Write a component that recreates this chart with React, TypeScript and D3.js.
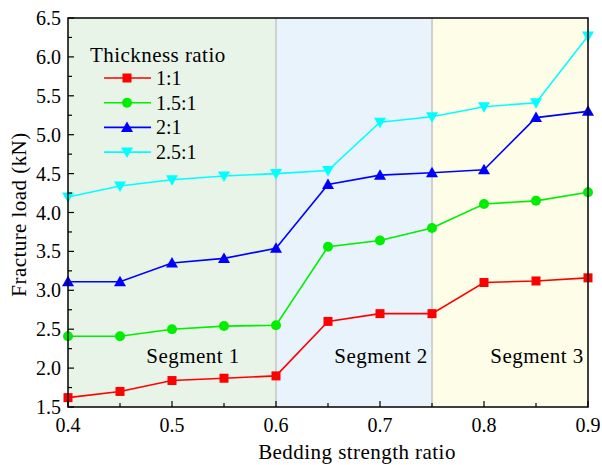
import React from "react";
import * as d3 from "d3";

const xValues = [0.4, 0.45, 0.5, 0.55, 0.6, 0.65, 0.7, 0.75, 0.8, 0.85, 0.9];
const ratio11 = [1.62, 1.7, 1.84, 1.87, 1.9, 2.6, 2.7, 2.7, 3.1, 3.12, 3.16];
const ratio151 = [2.41, 2.41, 2.5, 2.54, 2.55, 3.56, 3.64, 3.8, 4.11, 4.15, 4.26];
const ratio21 = [3.11, 3.11, 3.35, 3.41, 3.54, 4.36, 4.48, 4.51, 4.55, 5.22, 5.3];
const ratio251 = [4.2, 4.34, 4.42, 4.47, 4.5, 4.54, 5.16, 5.23, 5.36, 5.41, 6.27];
const seriesNames = ["1:1", "1.5:1", "2:1", "2.5:1"];
const seriesColors = ["#ff0000", "#00ee00", "#0000ff", "#00ffff"];
const seriesShapes = ["square", "circle", "triangleUp", "triangleDown"];
const xTicks = [0.4, 0.5, 0.6, 0.7, 0.8, 0.9];
const yTicks = [1.5, 2.0, 2.5, 3.0, 3.5, 4.0, 4.5, 5.0, 5.5, 6.0, 6.5];
const segments = [
  { name: "Segment 1", from: 0.4, to: 0.6, fill: "#e9f4e9" },
  { name: "Segment 2", from: 0.6, to: 0.75, fill: "#e9f3fb" },
  { name: "Segment 3", from: 0.75, to: 0.9, fill: "#fefde8" },
];

const W = 602, H = 465;
const L = 68, R = 588, T = 18, B = 407;
const FONT = "Liberation Serif, Times New Roman, serif";
const FS = 20;
const TFS = 21;
const LS = 0.45;

function Marker({ shape, x, y, color }: { shape: string; x: number; y: number; color: string }) {
  if (shape === "square") return <rect x={x - 4.5} y={y - 4.5} width={9} height={9} fill={color} />;
  if (shape === "circle") return <circle cx={x} cy={y} r={5} fill={color} />;
  if (shape === "triangleUp")
    return <path d={`M${x},${y - 6} L${x + 6},${y + 4.5} L${x - 6},${y + 4.5}Z`} fill={color} />;
  return <path d={`M${x},${y + 6} L${x + 6},${y - 4.5} L${x - 6},${y - 4.5}Z`} fill={color} />;
}

export default function App() {
  const x = d3.scaleLinear().domain([0.4, 0.9]).range([L, R]);
  const y = d3.scaleLinear().domain([1.5, 6.5]).range([B, T]);
  const data = [ratio11, ratio151, ratio21, ratio251];
  const line = d3
    .line<number>()
    .x((_, i) => x(xValues[i]))
    .y((d) => y(d));
  const xMinor = d3.range(0.45, 0.9, 0.1);
  const yMinor = d3.range(1.75, 6.5, 0.5);

  return (
    <svg width={W} height={H} style={{ display: "block", position: "absolute", left: 0, top: 0, fontFamily: FONT }}>
      <rect width={W} height={H} fill="#fff" />
      {segments.map((s) => (
        <rect key={s.name} x={x(s.from)} y={T} width={x(s.to) - x(s.from)} height={B - T} fill={s.fill} />
      ))}
      {[0.6, 0.75].map((v) => (
        <line key={v} x1={x(v)} x2={x(v)} y1={T} y2={B} stroke="#d0d0d0" strokeWidth={2} />
      ))}
      {segments.map((s, i) => (
        <text key={s.name} x={[193, 381, 537][i]} y={363} fontSize={TFS} letterSpacing={LS} textAnchor="middle" fill="#000">
          {s.name}
        </text>
      ))}
      {data.map((vals, si) => (
        <g key={si}>
          <path d={line(vals) || ""} fill="none" stroke={seriesColors[si]} strokeWidth={1.6} />
          {vals.map((v, i) => (
            <Marker key={i} shape={seriesShapes[si]} x={x(xValues[i])} y={y(v)} color={seriesColors[si]} />
          ))}
        </g>
      ))}
      {xTicks.map((t) => (
        <line key={t} x1={x(t)} x2={x(t)} y1={B} y2={B - 6} stroke="#000" strokeWidth={1.2} />
      ))}
      {xMinor.map((t) => (
        <line key={t} x1={x(t)} x2={x(t)} y1={B} y2={B - 4} stroke="#000" strokeWidth={1.2} />
      ))}
      {yTicks.map((t) => (
        <line key={t} x1={L} x2={L + 6} y1={y(t)} y2={y(t)} stroke="#000" strokeWidth={1.2} />
      ))}
      {yMinor.map((t) => (
        <line key={t} x1={L} x2={L + 4} y1={y(t)} y2={y(t)} stroke="#000" strokeWidth={1.2} />
      ))}
      <rect x={L} y={T} width={R - L} height={B - T} fill="none" stroke="#000" strokeWidth={1.5} />
      {xTicks.map((t) => (
        <text key={t} x={x(t)} y={432} fontSize={FS} textAnchor="middle" fill="#000">
          {t.toFixed(1)}
        </text>
      ))}
      {yTicks.map((t) => (
        <text key={t} x={61} y={y(t) + 7} fontSize={FS} textAnchor="end" fill="#000">
          {t.toFixed(1)}
        </text>
      ))}
      <text x={357} y={459} fontSize={TFS} letterSpacing={LS} textAnchor="middle" fill="#000">
        Bedding strength ratio
      </text>
      <text transform={`translate(26,${(T + B) / 2 + 2}) rotate(-90)`} fontSize={TFS} letterSpacing={LS} textAnchor="middle" fill="#000">
        Fracture load (kN)
      </text>
      <text x={90} y={62} fontSize={TFS} letterSpacing={LS} fill="#000">Thickness ratio</text>
      {seriesNames.map((n, i) => {
        const yy = 78 + i * 24.7;
        return (
          <g key={n}>
            <line x1={104} x2={151} y1={yy} y2={yy} stroke={seriesColors[i]} strokeWidth={1.6} />
            <Marker shape={seriesShapes[i]} x={127} y={yy} color={seriesColors[i]} />
            <text x={156} y={yy + 7} fontSize={FS} fill="#000">{n}</text>
          </g>
        );
      })}
    </svg>
  );
}
